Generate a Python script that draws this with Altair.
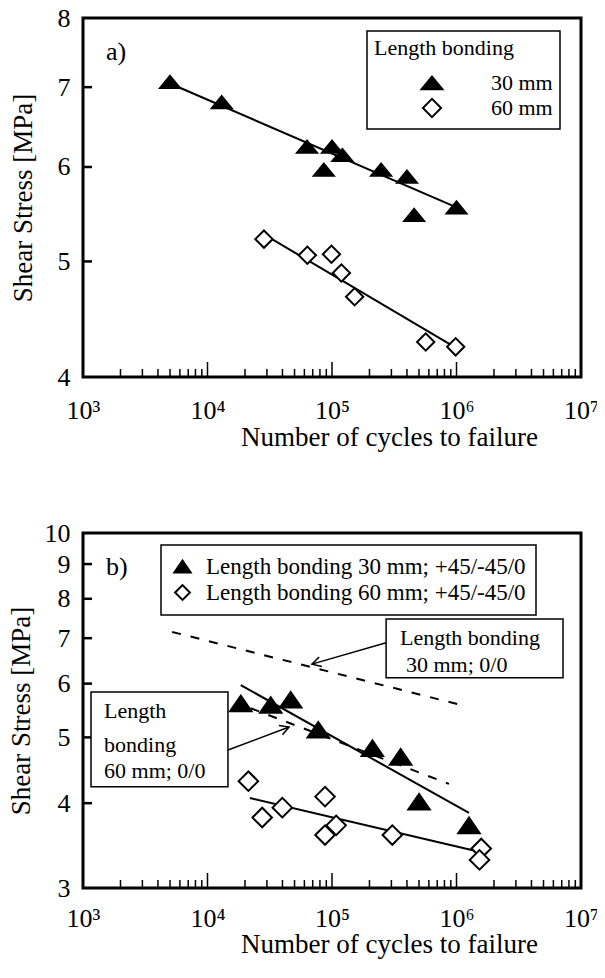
import altair as alt
import pandas as pd

FONT = "Liberation Serif"

# ---------------- panel a data ----------------
a_series = ["30 mm", "60 mm"]
a_30_cycles = [5000, 13000, 63000, 100000, 121000, 86000, 248000, 400000, 457000, 1000000]
a_30_stress = [7.07, 6.80, 6.24, 6.24, 6.14, 5.97, 5.97, 5.89, 5.47, 5.55]
a_60_cycles = [28400, 63400, 99000, 119000, 152000, 566000, 985000]
a_60_stress = [5.22, 5.06, 5.07, 4.89, 4.67, 4.28, 4.24]
a_fit30_cycles = [5000, 1000000]
a_fit30_stress = [7.05, 5.55]
a_fit60_cycles = [30000, 1000000]
a_fit60_stress = [5.25, 4.23]

# ---------------- panel b data ----------------
b_series = ["Length bonding 30 mm; +45/-45/0", "Length bonding 60 mm; +45/-45/0"]
b_30_cycles = [18500, 32200, 46600, 77600, 211000, 356000, 500000, 1260000]
b_30_stress = [5.61, 5.58, 5.68, 5.13, 4.82, 4.68, 4.02, 3.71]
b_60_cycles = [21300, 39900, 27500, 87900, 108000, 87900, 305000, 1580000, 1530000]
b_60_stress = [4.31, 3.94, 3.81, 4.09, 3.71, 3.59, 3.59, 3.43, 3.30]
b_fit30_cycles = [18500, 1260000]
b_fit30_stress = [5.97, 3.87]
b_fit60_cycles = [21900, 1550000]
b_fit60_stress = [4.07, 3.39]
b_ref30_cycles = [5200, 1090000]      # 0/0 reference, dashed
b_ref30_stress = [7.15, 5.58]
b_ref60_cycles = [22200, 870000]
b_ref60_stress = [5.52, 4.27]

# annotations (panel b)
ann_texts = ["Length bonding", "30 mm; 0/0", "Length", "bonding", "60 mm; 0/0"]
ann_cycles = [352000, 393000, 1475, 1475, 1475]
ann_stress = [6.84, 6.24, 5.34, 4.76, 4.36]
box_cycles_lo = [272000, 1160]
box_cycles_hi = [7170000, 14600]
box_stress_lo = [6.12, 4.23]
box_stress_hi = [7.47, 5.83]
arrow_from_cycles = [272000, 14600]
arrow_from_stress = [6.89, 4.79]
arrow_to_cycles = [69000, 45200]
arrow_to_stress = [6.41, 5.18]

# axes
x_labels_at = [1e3, 1e4, 1e5, 1e6, 1e7]
x_major_inner = [1e4, 1e5, 1e6]
x_minor = [m * 10 ** e for e in (3, 4, 5, 6) for m in range(2, 10)]
a_y_labels = [4, 5, 6, 7, 8]
a_y_ticks = [5, 6, 7]
b_y_labels = [3, 4, 5, 6, 7, 8, 9, 10]
b_y_ticks = [4, 5, 6, 7, 8, 9]

panel_tags = ["a)", "b)"]
tag_cycles = [1530, 1530]
tag_stress = [7.38, 8.67]

W = 498
HA = 359
HB = 355

TRI_A = "M0,-0.7L1.15,0.7L-1.15,0.7Z"
TRI_B = "M0,-0.8L1.1,0.8L-1.1,0.8Z"

sup_expr = ("round(log(datum.value)/LN10) == 3 ? '10³' : "
            "round(log(datum.value)/LN10) == 4 ? '10⁴' : "
            "round(log(datum.value)/LN10) == 5 ? '10⁵' : "
            "round(log(datum.value)/LN10) == 6 ? '10⁶' : '10⁷'")

xs = alt.Scale(type="log", domain=[1e3, 1e7], nice=False)


def x_axis(label_pad, title_y):
    return alt.Axis(values=x_labels_at, labelExpr=sup_expr, ticks=False, domain=False,
                    grid=False, labelFontSize=26, labelPadding=label_pad, labelFlush=False,
                    labelOverlap=False, labelFont=FONT, labelColor="black",
                    title="Number of cycles to failure",
                    titleFont=FONT, titleFontSize=27, titleFontWeight="normal", titleColor="black",
                    titleX=306, titleY=title_y, titleAlign="center", titleBaseline="middle")


def y_axis(vals, title_pad):
    return alt.Axis(values=vals, ticks=False, domain=False, grid=False, labelFontSize=26,
                    labelPadding=13, labelFlush=False, labelOverlap=False, labelFont=FONT,
                    labelColor="black",
                    title="Shear Stress [MPa]", titleFont=FONT, titleFontSize=27,
                    titleFontWeight="normal", titleColor="black", titlePadding=title_pad)


def line_layer(lines, ys, dash=None, xaxis=alt.Undefined, yaxis=alt.Undefined):
    rows = []
    for i, (c, s) in enumerate(lines):
        for cc, ss in zip(c, s):
            rows.append({"N": cc, "S": ss, "id": i})
    kw = dict(color="black", strokeWidth=2)
    if dash:
        kw["strokeDash"] = dash
    return alt.Chart(pd.DataFrame(rows)).mark_line(**kw).encode(
        x=alt.X("N:Q", scale=xs, axis=xaxis), y=alt.Y("S:Q", scale=ys, axis=yaxis), detail="id:N")


def tick_layers(ys, H, yticks):
    minor = alt.Chart(pd.DataFrame({"N": x_minor})).mark_rule(color="black", strokeWidth=1.5).encode(
        x=alt.X("N:Q", scale=xs), y=alt.value(H), y2=alt.value(H - 8))
    major = alt.Chart(pd.DataFrame({"N": x_major_inner})).mark_rule(color="black", strokeWidth=1.5).encode(
        x=alt.X("N:Q", scale=xs), y=alt.value(H), y2=alt.value(H - 15))
    yt = alt.Chart(pd.DataFrame({"S": yticks})).mark_rule(color="black", strokeWidth=2.5).encode(
        y=alt.Y("S:Q", scale=ys), x=alt.value(0), x2=alt.value(9))
    return [minor, major, yt]


def points_layer(series, c30, s30, c60, s60, ys, tri, size, legend):
    df = pd.DataFrame({"N": c30 + c60, "S": s30 + s60,
                       "grp": [series[0]] * len(c30) + [series[1]] * len(c60)})
    return alt.Chart(df).mark_point(size=size, strokeWidth=2, opacity=1).encode(
        x=alt.X("N:Q", scale=xs),
        y=alt.Y("S:Q", scale=ys),
        shape=alt.Shape("grp:N", scale=alt.Scale(domain=series, range=[tri, "diamond"]), legend=legend),
        fill=alt.Fill("grp:N", scale=alt.Scale(domain=series, range=["black", "white"]), legend=legend),
        stroke=alt.Stroke("grp:N", scale=alt.Scale(domain=series, range=["black", "black"]), legend=legend),
    )


def tag_layer(i, ys):
    df = pd.DataFrame({"N": [tag_cycles[i]], "S": [tag_stress[i]], "t": [panel_tags[i]]})
    return alt.Chart(df).mark_text(align="left", baseline="alphabetic", font=FONT, fontSize=26,
                                   color="black").encode(
        x=alt.X("N:Q", scale=xs), y=alt.Y("S:Q", scale=ys), text="t:N")


# ---------------- panel a ----------------
ys_a = alt.Scale(type="log", domain=[4, 8], nice=False, zero=False)
legend_a = alt.Legend(title="Length bonding", orient="none", legendX=284, legendY=13,
                      titleFont=FONT, titleFontSize=22, titleFontWeight="normal", titlePadding=12,
                      titleColor="black", labelColor="black",
                      labelFont=FONT, labelFontSize=22, symbolSize=330, symbolStrokeWidth=2,
                      symbolOffset=47, labelOffset=48,
                      padding=7, rowPadding=0, strokeColor="black", fillColor="white")
pa = alt.layer(
    line_layer([(a_fit30_cycles, a_fit30_stress), (a_fit60_cycles, a_fit60_stress)], ys_a,
               xaxis=x_axis(20, 60), yaxis=y_axis(a_y_labels, 20)),
    *tick_layers(ys_a, HA, a_y_ticks),
    points_layer(a_series, a_30_cycles, a_30_stress, a_60_cycles, a_60_stress, ys_a,
                 TRI_A, 300, legend_a),
    tag_layer(0, ys_a),
).properties(width=W, height=HA)

# ---------------- panel b ----------------
ys_b = alt.Scale(type="log", domain=[3, 10], nice=False, zero=False)
legend_b = alt.Legend(title=None, orient="none", legendX=78, legendY=12,
                      labelFont=FONT, labelFontSize=23, labelColor="black",
                      symbolSize=220, symbolStrokeWidth=2,
                      labelOffset=12, padding=10, rowPadding=2,
                      strokeColor="black", fillColor="white", labelLimit=0)

boxes = alt.Chart(pd.DataFrame({"N": box_cycles_lo, "N2": box_cycles_hi,
                                "S": box_stress_lo, "S2": box_stress_hi})).mark_rect(
    fill="white", stroke="black", strokeWidth=1.5).encode(
    x=alt.X("N:Q", scale=xs), x2="N2:Q",
    y=alt.Y("S:Q", scale=ys_b), y2="S2:Q")
ann = alt.Chart(pd.DataFrame({"N": ann_cycles, "S": ann_stress, "t": ann_texts})).mark_text(
    align="left", baseline="alphabetic", font=FONT, fontSize=22, color="black").encode(
    x=alt.X("N:Q", scale=xs), y=alt.Y("S:Q", scale=ys_b), text="t:N")
arrows = alt.Chart(pd.DataFrame({"N": arrow_from_cycles, "N2": arrow_to_cycles,
                                 "S": arrow_from_stress, "S2": arrow_to_stress})).mark_rule(
    color="black", strokeWidth=1.5).encode(
    x=alt.X("N:Q", scale=xs), x2="N2:Q",
    y=alt.Y("S:Q", scale=ys_b), y2="S2:Q")
HEAD = "M-1,-0.55L0,0L-1,0.55"
head1 = alt.Chart(pd.DataFrame({"N": [arrow_to_cycles[0]], "S": [arrow_to_stress[0]]})).mark_point(
    shape=HEAD, size=320, angle=164, stroke="black", strokeWidth=1.5, filled=False, opacity=1).encode(
    x=alt.X("N:Q", scale=xs), y=alt.Y("S:Q", scale=ys_b))
head2 = alt.Chart(pd.DataFrame({"N": [arrow_to_cycles[1]], "S": [arrow_to_stress[1]]})).mark_point(
    shape=HEAD, size=320, angle=339, stroke="black", strokeWidth=1.5, filled=False, opacity=1).encode(
    x=alt.X("N:Q", scale=xs), y=alt.Y("S:Q", scale=ys_b))

pb = alt.layer(
    line_layer([(b_ref30_cycles, b_ref30_stress), (b_ref60_cycles, b_ref60_stress)], ys_b, dash=[9, 10],
               xaxis=x_axis(17, 56), yaxis=y_axis(b_y_labels, 9)),
    line_layer([(b_fit30_cycles, b_fit30_stress), (b_fit60_cycles, b_fit60_stress)], ys_b),
    *tick_layers(ys_b, HB, b_y_ticks),
    boxes, ann, arrows, head1, head2,
    points_layer(b_series, b_30_cycles, b_30_stress, b_60_cycles, b_60_stress, ys_b,
                 TRI_B, 380, legend_b),
    tag_layer(1, ys_b),
).properties(width=W, height=HB)

chart = alt.vconcat(pa, pb, spacing=66).resolve_scale(
    shape="independent", fill="independent", stroke="independent"
).resolve_legend(
    shape="independent", fill="independent", stroke="independent"
).properties(
    padding={"left": -3, "top": -5, "right": -4, "bottom": 0}
).configure(font=FONT, background="white").configure_view(
    stroke="black", strokeWidth=3).configure_legend(strokeWidth=1.5)

chart.save("out.html", embed_options={"renderer": "svg", "actions": False})
